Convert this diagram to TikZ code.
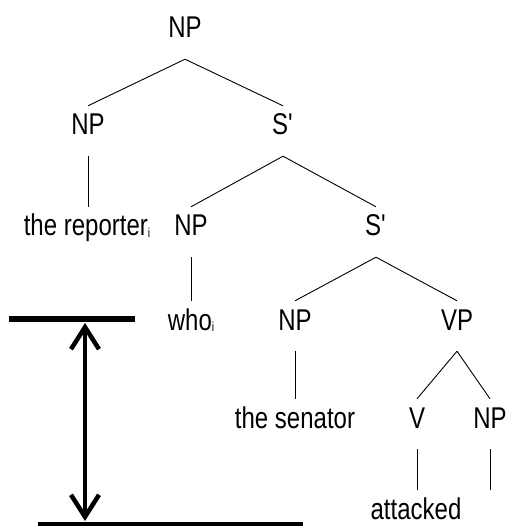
\documentclass[tikz,border=0pt]{standalone}
\usepackage{fontspec}
\setmainfont[FakeStretch=0.8]{Liberation Sans}
\usetikzlibrary{arrows.meta}
% small index letter for coreferring phrases
\newcommand\coidx{\raisebox{-1.5pt}{\fontsize{13}{13}\selectfont i}}
\begin{document}
\begin{tikzpicture}[x=1pt,y=-1pt,
  cat/.style={inner xsep=0pt, inner ysep=7pt, text height=22pt, text depth=14pt,
    anchor=base, font=\fontsize{30}{30}\selectfont},
  branch/.style={line width=0.9pt},
  bar/.style={line width=6pt},
  span/.style={line width=4.5pt,
    {Straight Barb[length=22pt,width=28pt]}-{Straight Barb[length=22pt,width=28pt]}}]
\useasboundingbox (0,0) rectangle (508,526);

% tree nodes, placed on their baselines
\node[cat] (np1) at (185,38) {NP};
\node[cat] (np2) at (88,135) {NP};
\node[cat] (s2) at (283,135) {S\textquotesingle};
\node[cat] (rep) at (87,236) {the reporter\coidx};
\node[cat] (np3) at (191,236) {NP};
\node[cat] (s3) at (376,236) {S\textquotesingle};
\node[cat] (who) at (191,330) {who\coidx};
\node[cat] (np4) at (295,330) {NP};
\node[cat] (vp) at (457,330) {VP};
\node[cat] (sen) at (295,428) {the senator};
\node[cat] (v) at (417,428) {V};
\node[cat] (np5) at (490,428) {NP};
\node[cat] (att) at (416,519) {attacked};

% branches
\draw[branch] (np1.south) -- (np2.north);
\draw[branch] (np1.south) -- (s2.north);
\draw[branch] (np2.south) -- (np2.south |- rep.north);
\draw[branch] (s2.south) -- (np3.north);
\draw[branch] (s2.south) -- (s3.north);
\draw[branch] (np3.south) -- (np3.south |- who.north);
\draw[branch] (s3.south) -- (np4.north);
\draw[branch] (s3.south) -- (vp.north);
\draw[branch] (np4.south) -- (np4.south |- sen.north);
\draw[branch] (vp.south) -- (v.north);
\draw[branch] (vp.south) -- (np5.north);
\draw[branch] (v.south) -- (v.south |- att.north);
\draw[branch] (np5.south) -- (np5.south |- att.north);

% level bars and the double arrow between them
\coordinate (tl) at (9,318.5);
\coordinate (tr) at (135,318.5);
\coordinate (bl) at (38,524.5);
\coordinate (br) at (303,524.5);
\draw[bar] (tl) -- (tr);
\draw[bar, line width=5pt] (bl) -- (br);
\coordinate (up) at (85,323);
\coordinate (down) at (85,521);
\draw[span] (up) -- (down);
\end{tikzpicture}
\end{document}
